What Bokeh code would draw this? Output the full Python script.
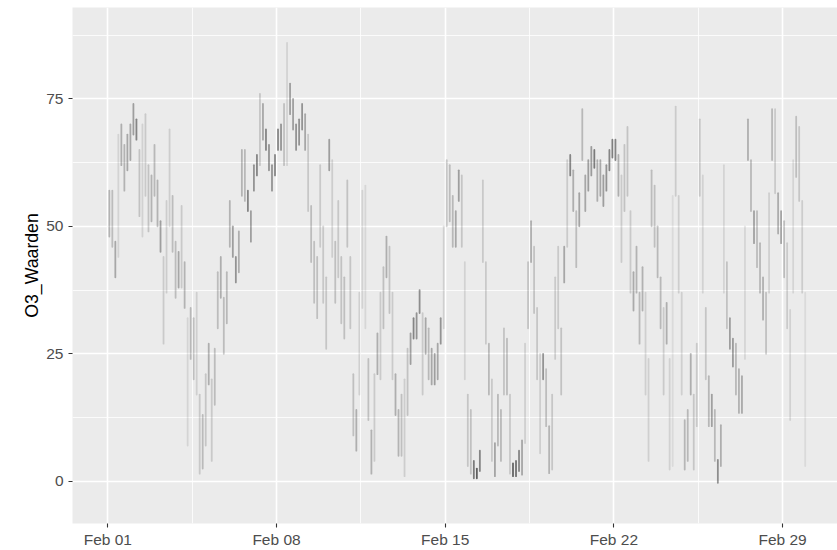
import datetime as dt
import numpy as np
from bokeh.plotting import figure
from bokeh.models import ColumnDataSource, FixedTicker, DatetimeTickFormatter, Range1d
from bokeh.embed import file_html
from bokeh.resources import INLINE

# ---------------- data ----------------
# O3 readings, Feb 2020, summarised per 3-hour block: lowest and highest value seen
series_start = dt.datetime(2020, 2, 1)
block_hours = 3

o3_lo = [48, 46, 40, 44, 62, 57, 61, 63, 68, 67, 52, 48, 56, 49, 51, 56,
         50, 45, 27, 37, 50, 45, 36, 38, 38, 34, 7, 24, 20, 17, 1.5, 2.5,
         7, 19, 4, 15, 30, 36, 25, 31, 46, 44, 39, 41, 56, 55, 53, 47,
         57, 60, 62, 67, 65, 61, 57, 60, 65, 65, 62, 62, 72, 69, 65, 66,
         69, 65, 53, 43, 35, 32, 46, 35, 26, 61, 44, 35, 40, 31, 28, 46,
         30, 9, 6, 17, 34, 30, 12, 1.5, 4, 21, 20, 30, 40, 33, 20, 13,
         5, 5, 1, 13, 23, 28, 28, 33, 17, 25, 20, 19, 19, 20, 27, 30,
         50, 51, 46, 46, 55, 46, 20, 3, 1.5, 0.6, 0.6, 2, 43, 27, 17, 4,
         1, 7, 4, 17, 17, 1.5, 1, 1, 2, 1.3, 7.5, 30, 43, 33, 20, 5.5,
         20, 10.8, 1.6, 2.3, 24, 30, 17, 39, 46, 60, 53, 42, 50, 63, 53, 57,
         60, 61.5, 55, 56, 54, 57, 61, 63.5, 63, 56, 43, 53, 56, 37, 33.5, 37,
         27, 33.5, 17, 4, 50, 46, 40, 30, 17, 27, 2.3, 3, 56, 37, 17, 2.3,
         4, 17, 2.3, 10.8, 56, 37, 20, 10.8, 10.8, 4, -0.3, 3, 37, 30, 26, 22.5,
         17, 13.4, 13.4, 24, 63, 53, 46.7, 42, 37, 31.7, 25, 37, 63, 56.5, 48.6, 46.7,
         40, 30, 12, 37, 59.7, 55, 37, 3]

o3_hi = [57, 57, 47, 68, 70, 66, 68, 70, 74, 71, 65, 70, 72, 62, 60, 66,
         59, 51, 44, 55, 69, 56, 47, 45, 54, 43, 32, 34, 32, 37, 17, 13,
         21, 27, 20, 26, 41, 44, 36, 41, 55, 50, 44, 49, 65, 65, 57, 53,
         62, 64, 76, 74, 69, 66, 62, 64, 69, 70, 74, 86, 78, 75, 70, 71,
         74, 72, 68, 54, 47, 44, 62, 50, 40, 67, 63, 47, 55, 44, 40, 59,
         44, 21, 14, 37, 57, 58, 24, 10, 21, 29, 37, 42, 48, 46, 37, 21,
         14, 17, 20, 26, 29, 32, 33, 37.5, 33, 32, 30, 26, 25, 27, 32, 50,
         63, 62, 56, 53, 61, 60, 43, 17, 14, 4, 2.5, 6, 59, 43, 27, 20,
         7.5, 17, 14, 30, 28, 17, 3.5, 4, 6, 8, 27, 43, 51, 46, 34, 25,
         25, 22, 10.8, 17, 40, 46, 30, 46, 63, 64, 61, 53, 56.5, 73, 60, 63,
         65.6, 65, 63, 63, 60, 62, 65, 67, 67, 64, 60, 66, 69.5, 53, 41, 46,
         37, 42, 37, 24, 61, 58, 50, 40, 34, 35, 24, 56, 73.5, 56, 37, 12,
         14, 25, 17, 27, 71, 60, 34, 20.6, 17, 14, 4.2, 11, 62, 43, 32, 28,
         27, 22, 20.6, 50, 71, 63, 53, 53, 46.7, 40, 37, 56.5, 73, 73, 56.5, 53,
         51, 46.7, 33.6, 63, 71.5, 69.5, 55, 37]

x_tick_dates = [dt.datetime(2020, 2, 1), dt.datetime(2020, 2, 8), dt.datetime(2020, 2, 15),
                dt.datetime(2020, 2, 22), dt.datetime(2020, 2, 29)]
y_ticks = [0, 25, 50, 75]
y_minor_ticks = [12.5, 37.5, 62.5, 87.5]
y_label = "O3_Waarden"

# ---------------- build ----------------
lo = np.array(o3_lo, dtype=float)
hi = np.array(o3_hi, dtype=float)
t = [series_start + dt.timedelta(hours=block_hours * (i + 0.5)) for i in range(len(lo))]
# fixed number of samples per block, so spread-out blocks look fainter
alpha = np.clip(2.6 / (hi - lo + 2.0), 0.07, 0.6)

src = ColumnDataSource(dict(t=t, lo=lo, hi=hi, alpha=alpha))

EPOCH = dt.datetime(1970, 1, 1)
def ms(d):
    return (d - EPOCH).total_seconds() * 1000.0

day = dt.timedelta(days=1)
x_major = [ms(d) for d in x_tick_dates]
x_minor = [ms(d + 3.5 * day) for d in x_tick_dates] + [ms(x_tick_dates[0] - 3.5 * day)]

p = figure(width=837, height=550, x_axis_type="datetime", output_backend="svg",
           toolbar_location=None, title=None,
           x_range=Range1d(series_start - 1.465 * day, series_start + 30.277 * day),
           y_range=Range1d(-8.28, 92.93),
           min_border_left=72, min_border_right=0, min_border_top=7, min_border_bottom=26)

p.background_fill_color = "#EBEBEB"
p.border_fill_color = "white"
p.outline_line_color = None

p.segment(x0="t", y0="lo", x1="t", y1="hi", source=src, line_color="black",
          line_alpha="alpha", line_width=1.8, line_cap="round")

p.xaxis.ticker = FixedTicker(ticks=x_major, minor_ticks=x_minor)
p.xaxis.formatter = DatetimeTickFormatter(days="%b %d", months="%b %d", hours="%b %d",
                                          years="%b %d")
p.yaxis.ticker = FixedTicker(ticks=y_ticks, minor_ticks=y_minor_ticks)

for g in (p.xgrid, p.ygrid):
    g.grid_line_color = "white"
    g.grid_line_width = 1.6
    g.minor_grid_line_color = "white"
    g.minor_grid_line_width = 0.8

for ax in (p.xaxis, p.yaxis):
    ax.axis_line_color = None
    ax.major_tick_line_color = "#333333"
    ax.major_tick_line_width = 1.1
    ax.major_tick_out = 4
    ax.major_tick_in = 0
    ax.minor_tick_out = 0
    ax.minor_tick_in = 0
    ax.major_label_text_font = "Liberation Sans"
    ax.major_label_text_font_size = "15.5px"
    ax.major_label_text_color = "#4D4D4D"

p.xaxis.major_label_standoff = 3
p.yaxis.major_label_standoff = 5
p.yaxis.axis_label = y_label
p.yaxis.axis_label_text_font = "Liberation Sans"
p.yaxis.axis_label_text_font_size = "17.7px"
p.yaxis.axis_label_text_font_style = "normal"
p.yaxis.axis_label_text_color = "black"
p.yaxis.axis_label_standoff = 1

open("out.html", "w").write(file_html(p, INLINE))
